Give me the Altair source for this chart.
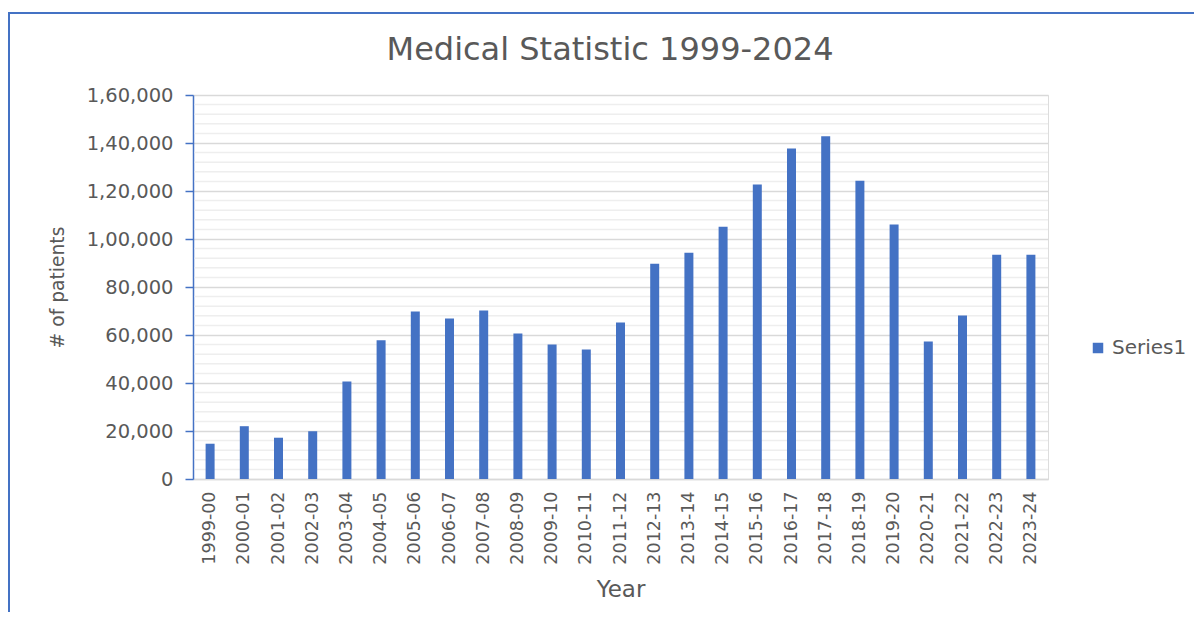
import altair as alt
import pandas as pd

# ---- data ----
years = ["1999-00", "2000-01", "2001-02", "2002-03", "2003-04", "2004-05", "2005-06",
         "2006-07", "2007-08", "2008-09", "2009-10", "2010-11", "2011-12", "2012-13",
         "2013-14", "2014-15", "2015-16", "2016-17", "2017-18", "2018-19", "2019-20",
         "2020-21", "2021-22", "2022-23", "2023-24"]
patients = [14700, 22000, 17200, 19900, 40600, 57800, 69800,
            66900, 70200, 60600, 56000, 54000, 65200, 89700,
            94300, 105100, 122700, 137700, 142800, 124300, 106000,
            57300, 68100, 93400, 93400]
series_name = "Series1"

y_ticks = [0, 20000, 40000, 60000, 80000, 100000, 120000, 140000, 160000]
y_tick_labels = ["0", "20,000", "40,000", "60,000", "80,000",
                 "1,00,000", "1,20,000", "1,40,000", "1,60,000"]
y_minor = [4000, 8000, 12000, 16000, 24000, 28000, 32000, 36000, 44000, 48000, 52000, 56000,
           64000, 68000, 72000, 76000, 84000, 88000, 92000, 96000, 104000, 108000, 112000,
           116000, 124000, 128000, 132000, 136000, 144000, 148000, 152000, 156000]

title_text = "Medical Statistic 1999-2024"
FONT = "DejaVu Sans"
TXT = "#595959"
BLUE = "#4472C4"

df = pd.DataFrame({"Year": years, "Patients": patients, "Series": series_name})
minor_df = pd.DataFrame({"Patients": y_minor})

label_expr = " : ".join(
    f"datum.value == {v} ? '{l}'" for v, l in zip(y_ticks, y_tick_labels)
) + " : ''"

yscale = alt.Scale(domain=[0, 160000], nice=False, zero=True)
y_axis = alt.Axis(values=y_ticks, labelExpr=label_expr, title="# of patients",
                  grid=True, gridColor="#d9d9d9", gridWidth=1.5,
                  domainColor=BLUE, domainWidth=1.5, tickColor=BLUE,
                  tickWidth=1.5, tickSize=8, labelFontSize=19.5,
                  labelColor=TXT, labelFont=FONT, labelPadding=12,
                  titleFontSize=18.7, titleFont=FONT, titleColor=TXT,
                  titleFontWeight="normal", titleX=-136, titleY=192,
                  titleAngle=270, titleAlign="center", titleBaseline="middle")

minor = alt.Chart(minor_df).mark_rule(color="#eeeeee", strokeWidth=1.5).encode(
    y=alt.Y("Patients:Q", scale=yscale, axis=y_axis),
    x=alt.value(1.5), x2=alt.value(855),
)

bars = alt.Chart(df).mark_bar(color=BLUE).encode(
    x=alt.X("Year:N", sort=years,
            scale=alt.Scale(paddingInner=0.737, paddingOuter=0.3685),
            axis=alt.Axis(title="Year", labelAngle=270, labelAlign="right",
                          labelBaseline="middle", labelFontSize=17.5, labelColor=TXT,
                          labelFont=FONT, labelPadding=12, ticks=False, grid=False,
                          domainColor="#d9d9d9", domainWidth=1.5,
                          titleFontSize=23, titleFont=FONT, titleColor=TXT,
                          titleFontWeight="normal", titleY=117,
                          titleBaseline="alphabetic")),
    y=alt.Y("Patients:Q", scale=yscale, axis=y_axis),
    color=alt.Color("Series:N", scale=alt.Scale(range=[BLUE]),
                    legend=alt.Legend(orient="none", legendX=895, legendY=243,
                                      title=None, symbolType="square",
                                      symbolSize=110, symbolStrokeWidth=0,
                                      labelFontSize=20, labelColor=TXT,
                                      labelFont=FONT, padding=0, labelOffset=4)),
)

one = alt.Data(values=[{"k": 0}])

title = alt.Chart(one).mark_text(
    text=title_text, font=FONT, fontSize=32, color=TXT, align="center",
    baseline="alphabetic"
).encode(x=alt.value(417), y=alt.value(-35))

border_top = alt.Chart(one).mark_rule(color=BLUE, strokeWidth=2).encode(
    x=alt.value(-185), x2=alt.value(1001), y=alt.value(-82)
)
border_left = alt.Chart(one).mark_rule(color=BLUE, strokeWidth=2).encode(
    x=alt.value(-184), y=alt.value(-83), y2=alt.value(517)
)

chart = alt.layer(minor, bars, title, border_top, border_left).properties(
    width=855, height=384,
    autosize=alt.AutoSizeParams(type="none"),
    padding={"left": 185, "top": 87, "right": 146, "bottom": 133},
).configure_view(stroke="transparent").configure(background="white")

chart.save("out.html", embed_options={"renderer": "svg", "actions": False})
